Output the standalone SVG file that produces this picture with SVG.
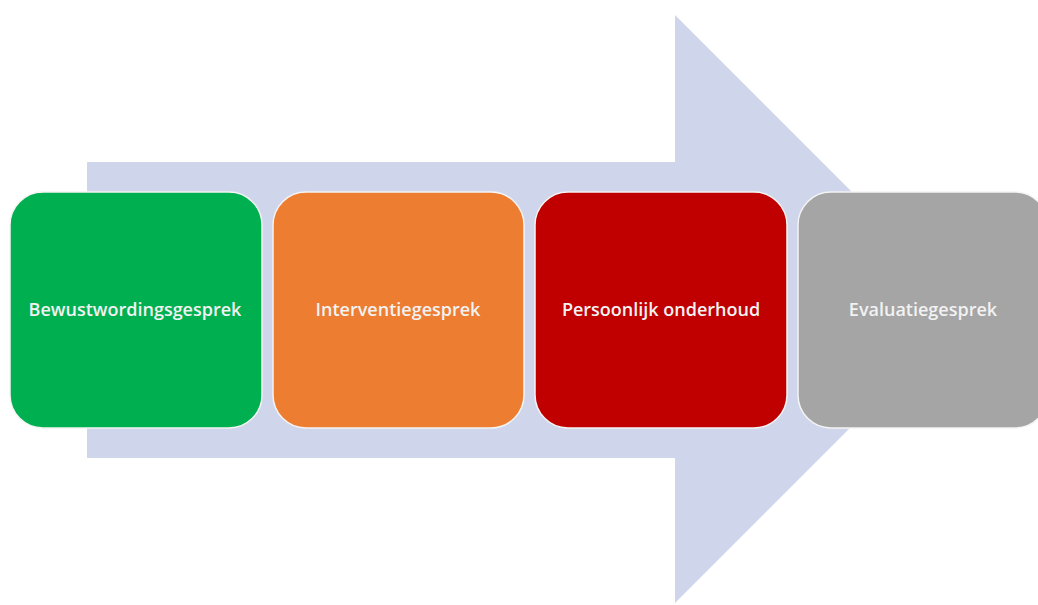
<svg xmlns="http://www.w3.org/2000/svg" width="1038" height="605" viewBox="0 0 1038 605">
<style>
.box{stroke:#F4F4F4;stroke-width:1.5}
.lbl{font-family:"Open Sans","Liberation Sans",sans-serif;font-size:18px;font-weight:600;fill:#F2F2F2;text-anchor:middle}
</style>
<rect width="1038" height="605" fill="#FFFFFF"/>
<g id="connectors">
<polygon id="arrow" points="87,162 675,162 675,15 969,309 675,603 675,458 87,458" fill="#CFD5EA"/>
</g>
<g id="n1"><rect class="box" x="10" y="192" width="252" height="236" rx="33" fill="#00B050"/><text class="lbl" x="135" y="316">Bewustwordingsgesprek</text></g>
<g id="n2"><rect class="box" x="273" y="192" width="251" height="236" rx="33" fill="#ED7D31"/><text class="lbl" x="398" y="316">Interventiegesprek</text></g>
<g id="n3"><rect class="box" x="535" y="192" width="252" height="236" rx="33" fill="#C00000"/><text class="lbl" x="661" y="316">Persoonlijk onderhoud</text></g>
<g id="n4"><rect class="box" x="798" y="192" width="250" height="236" rx="33" fill="#A5A5A5"/><text class="lbl" x="923" y="316">Evaluatiegesprek</text></g>
</svg>
